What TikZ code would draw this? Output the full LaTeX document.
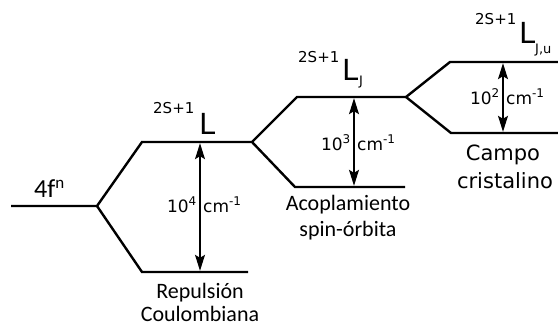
\documentclass[tikz,border=0pt]{standalone}
\usepackage{fontspec}
\setmainfont{DejaVu Sans}
\newfontfamily\calib{Carlito}
\usetikzlibrary{arrows.meta}
\newcommand{\supx}[1]{\raisebox{7pt}{\fontsize{12}{12}\selectfont #1}}
\begin{document}
\begin{tikzpicture}[x=1pt,y=-1pt,
  level/.style={line width=2.4pt, line join=miter},
  gap/.style={line width=1.1pt, {Stealth[length=16pt,width=10pt,inset=3pt]}-{Stealth[length=16pt,width=10pt,inset=3pt]}},
  txt/.style={inner sep=0pt, font=\fontsize{17}{20}\selectfont},
  lbl/.style={inner sep=0pt, anchor=base, font=\calib\fontsize{22}{26}\selectfont},
  pre/.style={inner sep=0pt, anchor=base west, font=\fontsize{15}{18}\selectfont},
  big/.style={inner sep=0pt, anchor=base west, font=\fontsize{29}{32}\selectfont},
  sub/.style={inner sep=0pt, anchor=base west, font=\fontsize{13}{15}\selectfont}]
\useasboundingbox (0,0) rectangle (558,327);
% level coordinates
\coordinate (a0) at (11,206);
\coordinate (a1) at (97,206);
\coordinate (b1u) at (142,142);
\coordinate (b2u) at (252,142);
\coordinate (b1d) at (142,272);
\coordinate (b2d) at (248,272);
\coordinate (c1u) at (297,97);
\coordinate (c2u) at (406,97);
\coordinate (c1d) at (295,187);
\coordinate (c2d) at (405,187);
\coordinate (d1u) at (450,62);
\coordinate (d2u) at (560,62);
\coordinate (d1d) at (451,133);
\coordinate (d2d) at (560,133);
% arrow ends
\coordinate (pbu) at (200,143.2);
\coordinate (pbd) at (200,270.8);
\coordinate (pcu) at (354,98.2);
\coordinate (pcd) at (354,185.8);
\coordinate (pdu) at (503,63.2);
\coordinate (pdd) at (503,131.8);
% levels
\draw[level] (a0)--(a1)--(b1u)--(b2u)--(c1u)--(c2u)--(d1u)--(d2u);
\draw[level] (a1)--(b1d)--(b2d);
\draw[level] (b2u)--(c1d)--(c2d);
\draw[level] (c2u)--(d1d)--(d2d);
% gaps
\draw[gap] (pbu)--(pbd);
\draw[gap] (pcu)--(pcd);
\draw[gap] (pdu)--(pdd);
% gap labels
\node[txt, anchor=base east] (e4) at (196.5,212) {10\supx{4}};
\node[txt, anchor=base west] (u4) at (203,212) {cm\supx{-1}};
\node[txt, anchor=base east] (e3) at (350.5,150) {10\supx{3}};
\node[txt, anchor=base west] (u3) at (357,150) {cm\supx{-1}};
\node[txt, anchor=base east] (e2) at (499.5,104) {10\supx{2}};
\node[txt, anchor=base west] (u2) at (506,104) {cm\supx{-1}};
% term symbols
\node[pre] (s1) at (153,113) {2S+1};
\node[big] (L1) at (199,134) {L};
\node[pre] (s2) at (298,62) {2S+1};
\node[big] (L2) at (342,80) {L};
\node[sub] (j2) at (359,85) {J};
\node[pre] (s3) at (475,24) {2S+1};
\node[big] (L3) at (519,43) {L};
\node[sub] (j3) at (535,53) {J,u};
% 4f^n
\node[inner sep=0pt, anchor=base west, font=\calib\fontsize{26}{30}\selectfont] (f) at (34,197) {4f\raisebox{9pt}{\fontsize{17}{17}\selectfont n}};
% captions
\node[lbl] (r1) at (200,298) {Repulsión};
\node[lbl] (r2) at (200,321) {Coulombiana};
\node[lbl] (a1t) at (348,210) {Acoplamiento};
\node[lbl] (a2t) at (348,236) {spin-órbita};
\node[inner sep=0pt, anchor=base, font=\fontsize{21}{24}\selectfont] (c1) at (503,160) {Campo};
\node[inner sep=0pt, anchor=base, font=\fontsize{21}{24}\selectfont] (c2) at (505,188) {cristalino};
\end{tikzpicture}
\end{document}
